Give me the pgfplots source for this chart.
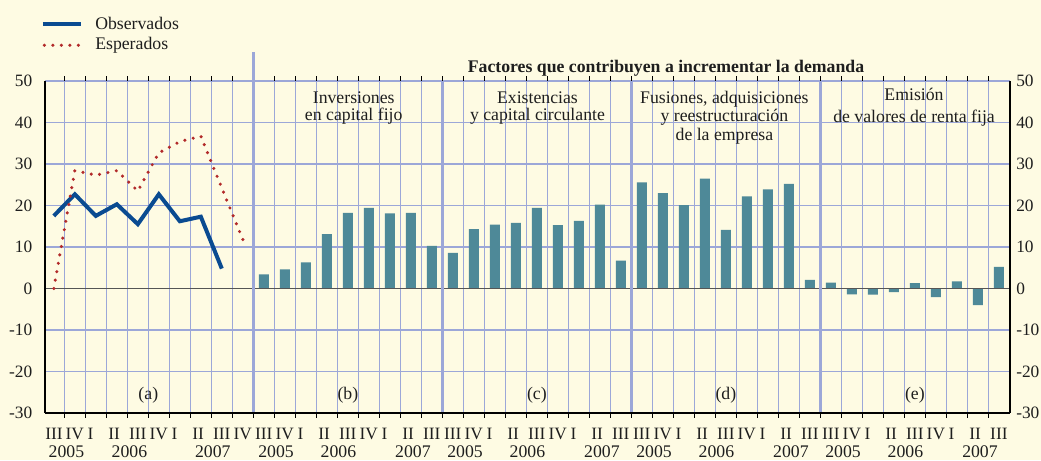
\documentclass[border=0pt]{standalone}
\usepackage{pgfplots}
\pgfplotsset{compat=1.18}
\usepackage{fontspec}
\setmainfont{Liberation Serif}
\definecolor{bgc}{RGB}{254,251,227}
\definecolor{gridc}{RGB}{156,167,216}
\definecolor{barc}{RGB}{78,137,152}
\definecolor{obsc}{RGB}{10,75,145}
\definecolor{expc}{RGB}{178,42,42}
\definecolor{txtc}{RGB}{30,30,30}
\definecolor{zeroc}{RGB}{85,85,85}

\pgfplotstableread{
x y
10.5 3.4
11.5 4.6
12.5 6.3
13.5 13.1
14.5 18.2
15.5 19.4
16.5 18.1
17.5 18.2
18.5 10.3
19.5 8.6
20.5 14.3
21.5 15.4
22.5 15.8
23.5 19.4
24.5 15.3
25.5 16.3
26.5 20.2
27.5 6.7
28.5 25.6
29.5 23.0
30.5 20.1
31.5 26.5
32.5 14.1
33.5 22.2
34.5 23.9
35.5 25.2
36.5 2.1
37.5 1.4
38.5 -1.4
39.5 -1.5
40.5 -0.9
41.5 1.3
42.5 -2.1
43.5 1.7
44.5 -4.0
45.5 5.2
}\bars

\pgfplotstableread{
x y
0.5 17.5
1.5 22.7
2.5 17.5
3.5 20.3
4.5 15.5
5.5 22.7
6.5 16.2
7.5 17.3
8.5 4.8
}\obs

\pgfplotstableread{
x y
0.5 0
1.5 28.4
2.5 27.3
3.5 28.4
4.5 23.5
5.5 32.7
6.5 35.4
7.5 36.7
8.5 24.2
9.5 11.8
}\expd

\begin{document}
\begin{tikzpicture}[font=\fontsize{13.3}{15}\selectfont]
\path[use as bounding box, fill=bgc] (-33.75pt,-35.25pt) rectangle (747pt,309.75pt);
\begin{axis}[
  name=main, at={(0pt,0pt)}, anchor=south west,
  scale only axis, width=723.75pt, height=249pt,
  xmin=0.08, xmax=46.03, ymin=-30, ymax=50,
  axis line style={draw=none},
  ytick={-30,-20,...,50},
  ymajorgrids, grid style={gridc, line width=0.8pt},
  xtick={0.51,1.5,2.25,3.37,4.5,5.5,6.25,7.37,8.5,9.5,
         10.5,11.5,12.25,13.37,14.5,15.5,16.25,17.37,18.5,
         19.5,20.5,21.25,22.37,23.5,24.5,25.25,26.37,27.5,
         28.5,29.5,30.25,31.37,32.5,33.5,34.25,35.37,36.5,
         37.5,38.5,39.25,40.37,41.5,42.5,43.25,44.37,45.5},
  xticklabels={III,IV,I,II,III,IV,I,II,III,IV,
               III,IV,I,II,III,IV,I,II,III,
               III,IV,I,II,III,IV,I,II,III,
               III,IV,I,II,III,IV,I,II,III,
               III,IV,I,II,III,IV,I,II,III},
  minor xtick={1,...,45}, xminorgrids, minor grid style={gridc, line width=0.8pt},
  major tick length=0pt, minor tick length=3.5pt, tick align=outside,
  minor tick style={black, line width=0.8pt},
  ticklabel style={font=\fontsize{13}{14}\selectfont, text=txtc},
  yticklabel style={xshift=-6pt},
  xticklabel style={anchor=base, inner sep=0.5pt, yshift=-20pt},
  /pgf/number format/assume math mode=true,
  clip=false,
]
\addplot[ybar, bar width=0.476, fill=barc, draw=none, forget plot] table[x=x,y=y] {\bars};
\draw[zeroc, line width=1.1pt] (axis cs:0.08,0) -- (axis cs:46.03,0);
\addplot[obsc, line width=3pt, line join=miter] table[x=x,y=y] {\obs};
\addplot[expc, line width=2.6pt, line cap=round, dash pattern=on 0pt off 6.4pt] table[x=x,y=y] {\expd};

\draw[gridc, line width=2.5pt] (axis cs:10,-30) -- (axis cs:10,57);
\draw[gridc, line width=2.5pt] (axis cs:19,-30) -- (axis cs:19,50);
\draw[gridc, line width=2.5pt] (axis cs:28,-30) -- (axis cs:28,50);
\draw[gridc, line width=2.5pt] (axis cs:37,-30) -- (axis cs:37,50);

\draw[black, line width=1pt] (rel axis cs:0,0) -- (rel axis cs:0,1);
\draw[black, line width=1pt] (rel axis cs:1,0) -- (rel axis cs:1,1);
\draw[black, line width=1pt] (rel axis cs:0,0) -- (rel axis cs:1,0);

% legend
\draw[obsc, line width=3pt] ([xshift=-1.5pt, yshift=42.75pt]rel axis cs:0,1) -- ++(28.5pt,0pt);
\node[anchor=base west, inner sep=0pt, text=txtc] at ([xshift=37.5pt, yshift=38.6pt]rel axis cs:0,1) {Observados};
\draw[expc, line width=2.6pt, line cap=round, dash pattern=on 0pt off 6.4pt] ([xshift=-0.5pt, yshift=26.8pt]rel axis cs:0,1) -- ++(25.7pt,0pt);
\node[anchor=base west, inner sep=0pt, text=txtc] at ([xshift=37.5pt, yshift=23.25pt]rel axis cs:0,1) {Esperados};

\node[font=\bfseries\fontsize{13.3}{15}\selectfont, text=txtc] at (axis cs:29.65,50) [yshift=9.75pt] {Factores que contribuyen a incrementar la demanda};

\node[anchor=north, align=center, inner sep=0pt, yshift=-7.5pt, text=txtc, font=\fontsize{13.3}{13.2}\selectfont] at (axis cs:14.78,50) {Inversiones\\en capital fijo};
\node[anchor=north, align=center, inner sep=0pt, yshift=-7.5pt, text=txtc, font=\fontsize{13.3}{13.2}\selectfont] at (axis cs:23.53,50) {Existencias\\y capital circulante};
\node[anchor=north, align=center, inner sep=0pt, yshift=-7.5pt, text=txtc, font=\fontsize{13.3}{13.7}\selectfont] at (axis cs:32.43,50) {Fusiones, adquisiciones\\y reestructuración\\de la empresa};
\node[anchor=north, align=center, inner sep=0pt, yshift=-5.5pt, text=txtc, font=\fontsize{13.3}{16}\selectfont] at (axis cs:41.46,50) {Emisión\\de valores de renta fija};

\node[text=txtc] at (axis cs:5,-25.7) {(a)};
\node[text=txtc] at (axis cs:14.5,-25.7) {(b)};
\node[text=txtc] at (axis cs:23.5,-25.7) {(c)};
\node[text=txtc] at (axis cs:32.5,-25.7) {(d)};
\node[text=txtc] at (axis cs:41.5,-25.7) {(e)};

\foreach \xx/\yy in {1.1/2005,4.1/2006,8.07/2007,11.08/2005,14.05/2006,17.6/2007,20.08/2005,23.05/2006,26.6/2007,29.08/2005,32.05/2006,35.6/2007,38.08/2005,41.05/2006,44.6/2007}{
  \edef\tmp{\noexpand\node[anchor=base, inner sep=0pt, text=txtc, yshift=-33.6pt] at (axis cs:\xx,-30) {\yy};}
  \tmp
}
\end{axis}
\begin{axis}[
  at={(0pt,0pt)}, anchor=south west,
  scale only axis, width=723.75pt, height=249pt,
  xmin=0.08, xmax=46.03, ymin=-30, ymax=50,
  axis line style={draw=none},
  xtick=\empty, ytick={-30,-20,...,50},
  yticklabel pos=right, major tick length=0pt,
  ticklabel style={font=\fontsize{13}{14}\selectfont, text=txtc},
  yticklabel style={anchor=west, inner sep=0pt, xshift=4.5pt},
  /pgf/number format/assume math mode=true,
]
\end{axis}
\end{tikzpicture}
\end{document}
